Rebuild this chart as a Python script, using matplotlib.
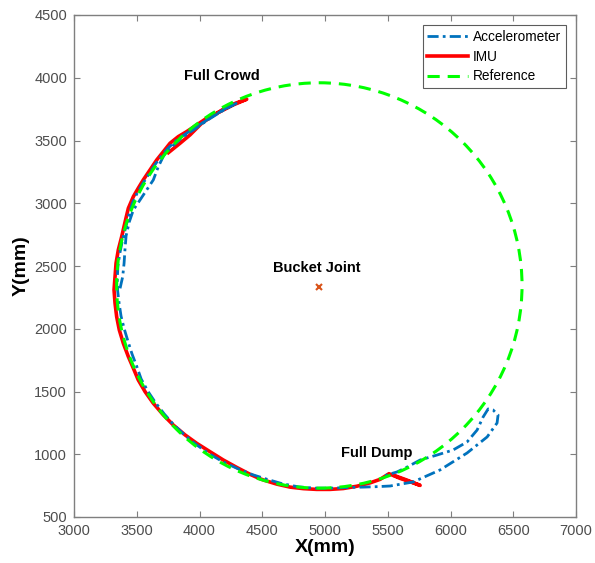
import matplotlib
matplotlib.use("Agg")
import matplotlib.pyplot as plt
from matplotlib.lines import Line2D
from matplotlib.patches import Circle

plt.rcParams['font.family'] = ['Liberation Sans', 'DejaVu Sans']

# IMU trajectory (mm)
imu_x = [3752, 3845, 3925, 4018, 4110, 4200, 4290, 4376, 4270, 4164, 4058, 3978, 3898, 3831,
         3765, 3712, 3659, 3606, 3552, 3512, 3473, 3433, 3414, 3380, 3353, 3335, 3327, 3319,
         3327, 3340, 3361, 3393, 3433, 3473, 3512, 3566, 3632, 3712, 3791, 3885, 3978, 4084,
         4190, 4297, 4403, 4482, 4509, 4616, 4722, 4828, 4934, 5040, 5146, 5253, 5359, 5439,
         5510, 5598, 5678, 5758, 5650, 5560]
imu_y = [3403, 3478, 3545, 3638, 3700, 3755, 3798, 3829, 3784, 3730, 3678, 3624, 3571, 3531,
         3478, 3411, 3345, 3266, 3186, 3120, 3053, 2960, 2881, 2734, 2628, 2522, 2415, 2309,
         2203, 2096, 1990, 1884, 1778, 1685, 1592, 1499, 1406, 1313, 1233, 1154, 1087, 1020,
         954, 895, 840, 805, 795, 762, 738, 726, 720, 720, 727, 745, 772, 800,
         845, 808, 781, 752, 795, 828]

# Accelerometer trajectory (mm)
acc_x = [3367, 3388, 3399, 3406, 3415, 3440, 3473, 3526, 3579, 3632, 3672, 3720, 3790, 3870,
         3960, 4060, 4180, 4300, 4200, 4100, 4000, 3900, 3820, 3750, 3690, 3640, 3595, 3550,
         3505, 3465, 3435, 3410, 3385, 3365, 3350, 3345, 3348, 3360, 3375, 3400, 3430, 3462,
         3500, 3535, 3590, 3650, 3720, 3795, 3880, 3970, 4075, 4190, 4305, 4420, 4540, 4660,
         4790, 4920, 5050, 5180, 5300, 5420, 5519, 5702, 5917, 6132, 6292, 6371, 6379, 6339,
         6300, 6260, 6212, 6132, 6021, 5893, 5758, 5654, 5574, 5519, 5480]
acc_y = [2322, 2415, 2522, 2628, 2740, 2850, 2947, 3026, 3106, 3186, 3292, 3390, 3460, 3530,
         3590, 3660, 3735, 3800, 3750, 3690, 3625, 3560, 3505, 3440, 3370, 3300, 3230, 3160,
         3085, 3000, 2900, 2800, 2700, 2600, 2500, 2400, 2300, 2200, 2100, 2000, 1900, 1800,
         1700, 1600, 1500, 1410, 1320, 1235, 1155, 1080, 1005, 938, 885, 838, 800, 765,
         740, 730, 730, 735, 738, 742, 747, 779, 875, 1010, 1138, 1249, 1313, 1353,
         1361, 1297, 1193, 1098, 1034, 994, 954, 898, 859, 843, 830]

# Reference circle
ref_center = (4955, 2345)
ref_radius = 1615

joint_x = [4953]
joint_y = [2335]

labels = ["Accelerometer", "IMU", "Reference"]

fig = plt.figure(figsize=(5.95, 5.63), dpi=100)
ax = fig.add_axes([74/595, 46/563, 502/595, 502/563])

c_acc = '#0072BD'
c_imu = '#FF0000'
c_ref = '#00FF00'
ls_acc = (0, (4, 1.5, 1, 1.5))
ls_ref = (0, (4, 2.6))

ax.add_patch(Circle(ref_center, ref_radius, fill=False, ls=ls_ref, lw=2.2, color=c_ref, zorder=3))
ax.plot(imu_x, imu_y, color=c_imu, lw=2.6, zorder=2)
ax.plot(acc_x, acc_y, color=c_acc, lw=2.0, ls=ls_acc, zorder=2.5)
ax.plot(joint_x, joint_y, 'x', color='#D95319', ms=5, mew=1.5, zorder=4)

tf = dict(fontsize=10.5, fontweight='bold', ha='center', va='center', color='black')
ax.text(4180, 4010, 'Full Crowd', **tf)
ax.text(4937, 2485, 'Bucket Joint', **tf)
ax.text(5415, 1012, 'Full Dump', **tf)

ax.set_xlim(3000, 7000)
ax.set_ylim(500, 4500)
ax.set_xticks(range(3000, 7001, 500))
ax.set_yticks(range(500, 4501, 500))

for s in ax.spines.values():
    s.set_color('#7f7f7f')
    s.set_linewidth(1.0)
ax.tick_params(direction='in', top=True, right=True, length=4, color='#7f7f7f',
               labelcolor='#4d4d4d', labelsize=10.5)
ax.tick_params(axis='x', pad=5)
ax.tick_params(axis='y', pad=5)
ax.set_xlabel('X(mm)', fontsize=14, fontweight='bold', labelpad=1)
ax.set_ylabel('Y(mm)', fontsize=14, fontweight='bold', labelpad=3)

handles = [Line2D([], [], color=c_acc, lw=2.0, ls=ls_acc),
           Line2D([], [], color=c_imu, lw=2.6),
           Line2D([], [], color=c_ref, lw=2.2, ls=ls_ref)]
leg = ax.legend(handles, labels, loc='upper right', fontsize=9.8, frameon=True, fancybox=False,
                edgecolor='#333333', handlelength=3.0, borderpad=0.35, labelspacing=0.42,
                handletextpad=0.35, borderaxespad=0.75)
leg.get_frame().set_linewidth(0.8)

fig.savefig('out.png', dpi=100)
